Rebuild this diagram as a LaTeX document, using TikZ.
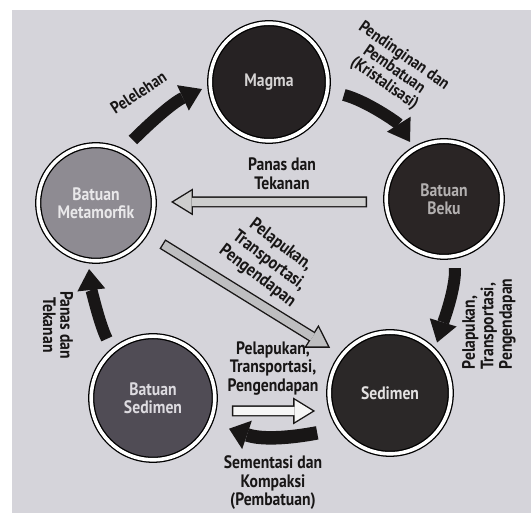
\documentclass[tikz,border=0pt]{standalone}
\usepackage{fontspec}
\setmainfont{PT Sans}[FakeStretch=0.87]
\usetikzlibrary{arrows.meta,calc}
\definecolor{bg}{RGB}{213,212,218}
\definecolor{ink}{RGB}{24,22,22}
\definecolor{cmagma}{RGB}{38,34,35}
\definecolor{cbeku}{RGB}{42,37,37}
\definecolor{cmeta}{RGB}{142,139,146}
\definecolor{cbs}{RGB}{80,76,85}
\definecolor{csed}{RGB}{43,40,40}
\definecolor{greyA}{RGB}{205,205,205}
\definecolor{greyB}{RGB}{190,190,192}
\definecolor{whiteA}{RGB}{246,246,246}
\newcommand\hollowarr[3]{%
  \draw[line width=11pt, draw=ink, -{Triangle[width=27pt,length=22pt,line width=0pt]}] #1 -- #2;
  \draw[line width=8.2pt, draw=#3, shorten <=1.4pt, shorten >=2.7pt, -{Triangle[width=22pt,length=17.9pt,line width=0pt]}] #1 -- #2;
}
\begin{document}
\begin{tikzpicture}[x=1pt,y=1pt,
  rock/.style={circle, draw=black, line width=1.3pt, double=white, double distance=3.6pt,
    inner sep=0pt, align=center, font=\bfseries\fontsize{18}{17.5}\selectfont},
  blackarrow/.style={line width=12pt, draw=ink, -{Triangle[width=28pt,length=21pt,line width=0pt]}},
  lbl/.style={font=\bfseries\fontsize{18}{18.5}\selectfont, align=center, text=ink, inner sep=0pt}]
\useasboundingbox (0,0) rectangle (531,513);
\fill[white] (0,0) rectangle (531,513);
\fill[bg] (12,0) rectangle (531,503);

% rock nodes
\node[rock, fill=cmagma, text={rgb,255:red,213;green,211;blue,211}, minimum size=117.6pt] (magma) at (269,431) {Magma};
\node[rock, fill=cbeku, text={rgb,255:red,179;green,176;blue,176}, minimum size=115.6pt] (beku) at (444,314) {Batuan\\Beku};
\node[rock, fill=cmeta, text={rgb,255:red,233;green,232;blue,234}, minimum size=115.6pt] (meta) at (96,310) {Batuan\\Metamorfik};
\node[rock, fill=cbs, text={rgb,255:red,221;green,219;blue,224}, minimum size=123.6pt] (bs) at (153,115) {Batuan\\Sedimen};
\node[rock, fill=csed, text={rgb,255:red,227;green,225;blue,225}, minimum size=121.6pt] (sed) at (390,120) {Sedimen};

% black curved arrows
\draw[blackarrow] ($(meta)+(59.6:73)$) .. controls (148,388) and (172,410) .. ($(magma)+(186:67.4)$);
\draw[blackarrow] ($(magma)+(-9.8:76)$) .. controls (367,412) and (398,390) .. ($(beku)+(120.8:66.4)$);
\draw[blackarrow] ($(beku)+(-81:70)$) .. controls (456,225) and (443,190) .. ($(sed)+(47:69)$);
\draw[blackarrow] ($(bs)+(128:75)$) .. controls (99,190) and (91,226) .. ($(meta)+(264:66.4)$);
\draw[blackarrow, line width=13.5pt, -{Triangle[width=30pt,length=19pt,line width=0pt]}] ($(sed)+(208.7:83)$) .. controls (290,75) and (262,73) .. ($(bs)+(-22:82)$);

% hollow arrows
\hollowarr{($(beku)+(182.2:77)$)}{($(meta)+(0.8:75)$)}{greyA}
\hollowarr{($(meta)+(-31.7:78)$)}{($(sed)+(143:75)$)}{greyB}
\hollowarr{($(bs)+(-9.3:80)$)}{($(sed)+(193.5:77)$)}{whiteA}

% labels
\node[lbl, rotate=33, font=\bfseries\fontsize{17}{17}\selectfont] (lmelt) at (138.5,420.5) {Pelelehan};
\node[lbl, rotate=-35, font=\bfseries\fontsize{17}{16.8}\selectfont] (lcool) at (394,443) {Pendinginan dan\\Pembatuan\\(Kristalisasi)};
\node[lbl] (lheat) at (282,339.5) {Panas dan\\Tekanan};
\node[lbl, rotate=-37, font=\bfseries\fontsize{18}{19.5}\selectfont] (ldiag) at (269,252) {Pelapukan,\\Transportasi,\\Pengendapan};
\node[lbl, rotate=90, align=left] (lright) at (489,189) {Pelapukan,\\Transportasi,\\Pengendapan};
\node[lbl, rotate=-90, font=\bfseries\fontsize{18}{17.4}\selectfont] (lleft) at (58,188) {Panas dan\\Tekanan};
\node[lbl] (lbottom) at (273,144.5) {Pelapukan,\\Transportasi,\\Pengendapan};
\node[lbl, font=\bfseries\fontsize{18}{18.5}\selectfont] (lcement) at (273,30) {Sementasi dan\\Kompaksi\\(Pembatuan)};
\end{tikzpicture}
\end{document}
